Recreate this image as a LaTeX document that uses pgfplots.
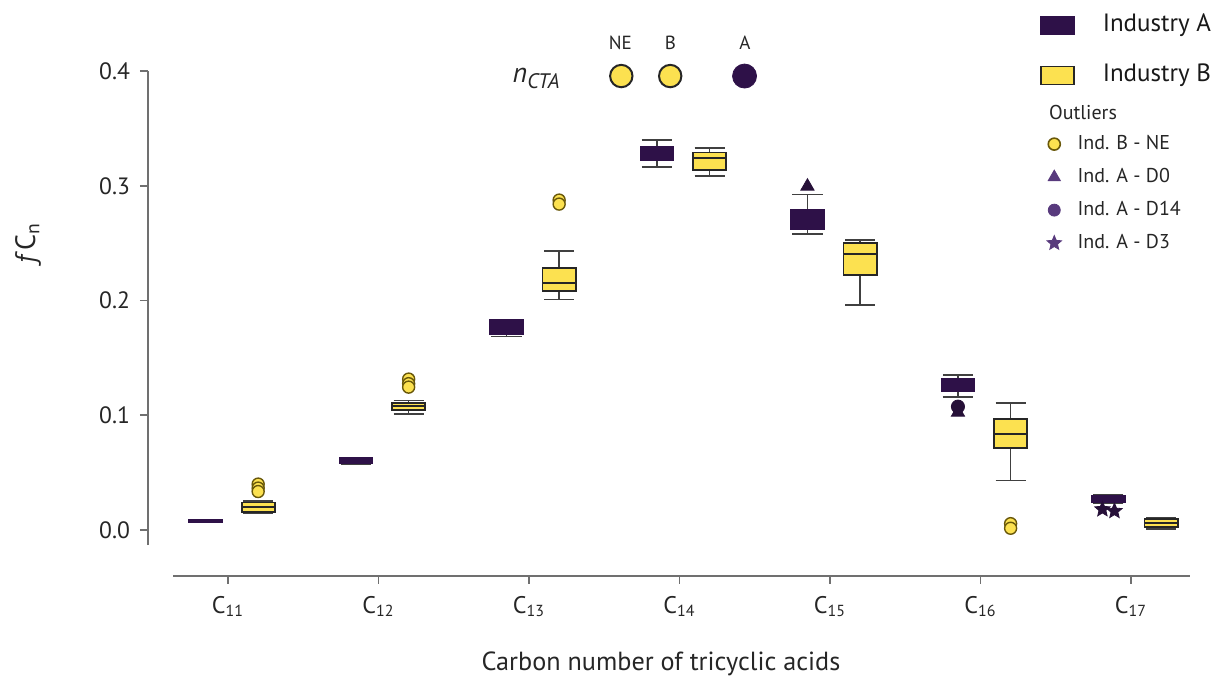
\documentclass[border=0pt]{standalone}
\usepackage{fontspec}
\setmainfont{PT Sans}
\usepackage{pgfplots}
\pgfplotsset{compat=1.18}
\usepgfplotslibrary{statistics}

\definecolor{indA}{RGB}{46,17,72}
\definecolor{indB}{RGB}{252,225,80}
\definecolor{outA}{RGB}{38,16,56}
\definecolor{legA}{RGB}{88,58,125}
\definecolor{olivedk}{RGB}{105,88,10}
\definecolor{axisgray}{RGB}{112,112,112}

% filled five-pointed star
\pgfdeclareplotmark{fstar}{%
  \pgfpathmoveto{\pgfpointpolar{90}{\pgfplotmarksize}}%
  \pgfpathlineto{\pgfpointpolar{126}{0.45\pgfplotmarksize}}%
  \pgfpathlineto{\pgfpointpolar{162}{\pgfplotmarksize}}%
  \pgfpathlineto{\pgfpointpolar{198}{0.45\pgfplotmarksize}}%
  \pgfpathlineto{\pgfpointpolar{234}{\pgfplotmarksize}}%
  \pgfpathlineto{\pgfpointpolar{270}{0.45\pgfplotmarksize}}%
  \pgfpathlineto{\pgfpointpolar{306}{\pgfplotmarksize}}%
  \pgfpathlineto{\pgfpointpolar{342}{0.45\pgfplotmarksize}}%
  \pgfpathlineto{\pgfpointpolar{18}{\pgfplotmarksize}}%
  \pgfpathlineto{\pgfpointpolar{54}{0.45\pgfplotmarksize}}%
  \pgfpathclose\pgfusepathqfillstroke}

\pgfplotsset{
  boxA/.style={forget plot, fill=indA, draw=indA, line width=0.8pt,
    boxplot/every whisker/.style={draw=black!75, line width=0.8pt},
    boxplot/every median/.style={draw=indA, line width=0.8pt}},
  boxB/.style={forget plot, fill=indB, draw=black!85, line width=0.9pt,
    boxplot/every whisker/.style={draw=black!75, line width=0.8pt},
    boxplot/every median/.style={draw=black!85, line width=0.9pt}},
}

\begin{document}
\begin{tikzpicture}
\begin{axis}[
  scale only axis, width=521pt, height=252.5pt,
  at={(0,0)}, anchor=south west,
  xmin=10.468, xmax=17.392, ymin=-0.0401, ymax=0.4,
  axis x line*=bottom, axis y line*=left,
  axis line style={draw=none},
  clip=false,
  xtick={11,...,17},
  xticklabels={C\textsubscript{11},C\textsubscript{12},C\textsubscript{13},C\textsubscript{14},C\textsubscript{15},C\textsubscript{16},C\textsubscript{17}},
  ytick={0,0.1,0.2,0.3,0.4},
  tick align=outside,
  major tick length=4pt,
  tick style={axisgray, line width=0.8pt},
  xticklabel style={font=\fontsize{12}{14}\selectfont, text=black!85, yshift=-2.5pt},
  yticklabel style={font=\fontsize{11.8}{14}\selectfont, text=black!85, xshift=-1.5pt,
    /pgf/number format/.cd, fixed, fixed zerofill, precision=1, assume math mode=true},
  boxplot/draw direction=y,
  boxplot/box extend=0.22,
  boxplot/whisker extend=0.2,
  legend style={at={(0.856,1.114)}, anchor=north west, draw=none, fill=none,
    inner sep=0pt, outer sep=0pt, row sep=13pt,
    font=\fontsize{12.5}{14}\selectfont,
    nodes={inner sep=0pt, text height=9pt, text depth=3pt, text=black!90},
    /tikz/every odd column/.append style={column sep=14pt}},
  legend cell align=left,
  legend image code/.code={\draw[#1] (0pt,-4.5pt) rectangle (16.5pt,4.5pt);},
]

% Industry A
\addplot[boxA, boxplot prepared={draw position=10.85, lower whisker=0.0070, lower quartile=0.0072, median=0.0078, upper quartile=0.0085, upper whisker=0.0088}] coordinates {};
\addplot[boxA, boxplot prepared={draw position=11.85, lower whisker=0.0575, lower quartile=0.0580, median=0.0600, upper quartile=0.0625, upper whisker=0.0630}] coordinates {};
\addplot[boxA, boxplot prepared={draw position=12.85, lower whisker=0.1685, lower quartile=0.1710, median=0.1770, upper quartile=0.1830, upper whisker=0.1835}] coordinates {};
\addplot[boxA, boxplot prepared={draw position=13.85, lower whisker=0.3165, lower quartile=0.3220, median=0.3280, upper quartile=0.3340, upper whisker=0.3400}] coordinates {};
\addplot[boxA, boxplot prepared={draw position=14.85, lower whisker=0.2580, lower quartile=0.2620, median=0.2720, upper quartile=0.2790, upper whisker=0.2925}] coordinates {};
\addplot[boxA, boxplot prepared={draw position=15.85, lower whisker=0.1160, lower quartile=0.1210, median=0.1260, upper quartile=0.1315, upper whisker=0.1350}] coordinates {};
\addplot[boxA, boxplot prepared={draw position=16.85, lower whisker=0.0235, lower quartile=0.0240, median=0.0270, upper quartile=0.0300, upper whisker=0.0305}] coordinates {};

% Industry B
\addplot[boxB, boxplot prepared={draw position=11.2, lower whisker=0.0145, lower quartile=0.0160, median=0.0200, upper quartile=0.0240, upper whisker=0.0250}] coordinates {};
\addplot[boxB, boxplot prepared={draw position=12.2, lower whisker=0.1010, lower quartile=0.1045, median=0.1080, upper quartile=0.1110, upper whisker=0.1130}] coordinates {};
\addplot[boxB, boxplot prepared={draw position=13.2, lower whisker=0.2010, lower quartile=0.2080, median=0.2150, upper quartile=0.2280, upper whisker=0.2430}] coordinates {};
\addplot[boxB, boxplot prepared={draw position=14.2, lower whisker=0.3085, lower quartile=0.3140, median=0.3240, upper quartile=0.3290, upper whisker=0.3330}] coordinates {};
\addplot[boxB, boxplot prepared={draw position=15.2, lower whisker=0.1960, lower quartile=0.2220, median=0.2405, upper quartile=0.2500, upper whisker=0.2527}] coordinates {};
\addplot[boxB, boxplot prepared={draw position=16.2, lower whisker=0.0430, lower quartile=0.0715, median=0.0835, upper quartile=0.0965, upper whisker=0.1105}] coordinates {};
\addplot[boxB, boxplot prepared={draw position=17.2, lower whisker=0.0010, lower quartile=0.0025, median=0.0060, upper quartile=0.0095, upper whisker=0.0110}] coordinates {};

% outliers
\addplot[forget plot, only marks, mark=*, mark size=3pt, fill=indB, draw=olivedk, line width=0.7pt] coordinates {
  (11.2,0.0400) (11.2,0.0365) (11.2,0.0335)
  (12.2,0.1315) (12.2,0.1275) (12.2,0.1245)
  (13.2,0.2875) (13.2,0.2840)
  (16.2,0.0055) (16.2,0.0015)};
\addplot[forget plot, only marks, mark=triangle*, mark size=3.8pt, fill=outA, draw=outA] coordinates {(14.85,0.2995) (15.85,0.1025)};
\addplot[forget plot, only marks, mark=*, mark size=3.3pt, fill=outA, draw=outA] coordinates {(15.85,0.1075)};
\addplot[forget plot, only marks, mark=fstar, mark size=4pt, fill=outA, draw=outA] coordinates {(16.81,0.0180) (16.89,0.0165)};

% n_CTA markers
\addplot[forget plot, only marks, mark=*, mark size=5.6pt, fill=indB, draw=black!85, line width=1pt] coordinates {(13.613,0.3956) (13.938,0.3956)};
\addplot[forget plot, only marks, mark=*, mark size=6pt, fill=indA, draw=indA] coordinates {(14.432,0.3956)};
\node[font=\fontsize{9.5}{11}\selectfont, text=black!85] at (axis cs:13.607,0.4247) {NE};
\node[font=\fontsize{9.5}{11}\selectfont, text=black!85] at (axis cs:13.940,0.4247) {B};
\node[font=\fontsize{9.5}{11}\selectfont, text=black!85] at (axis cs:14.435,0.4247) {A};
\node[anchor=base, text=black!85] at (axis cs:13.047,0.3904)
  {{\fontsize{14}{16}\selectfont\itshape n}\raisebox{-3pt}{\fontsize{10.5}{12}\selectfont\itshape CTA}};

% axis labels
\node[rotate=90, text=black!85, font=\fontsize{14}{16}\selectfont] at (axis cs:9.671,0.2501) {{\itshape f}\,C\textsubscript{n}};
\node[text=black!85, font=\fontsize{13.1}{15}\selectfont] at (axis cs:13.877,-0.1168) {Carbon number of tricyclic acids};
\node[anchor=west, text=black!85, font=\fontsize{10}{12}\selectfont] at (axis cs:16.409,0.3634) {Outliers};

% offset axis lines
\draw[axisgray, line width=1pt] (axis cs:10.468,-0.0131) -- (axis cs:10.468,0.4);
\draw[axisgray, line width=1pt] (axis cs:10.635,-0.0401) -- (axis cs:17.392,-0.0401);

\addlegendimage{fill=indA, draw=indA, line width=0.8pt}
\addlegendentry{Industry A}
\addlegendimage{fill=indB, draw=black!85, line width=0.9pt}
\addlegendentry{Industry B}
\end{axis}

\begin{axis}[
  scale only axis, width=521pt, height=252.5pt,
  at={(0,0)}, anchor=south west,
  hide axis, xmin=0, xmax=1, ymin=0, ymax=1,
  legend style={at={(0.8628,0.873)}, anchor=north west, draw=none, fill=none,
    inner sep=0pt, outer sep=0pt, row sep=7.5pt,
    font=\fontsize{10}{12}\selectfont,
    nodes={inner sep=0pt, text height=7pt, text depth=2pt, text=black!85},
    /tikz/every odd column/.append style={column sep=8pt}},
  legend cell align=left,
]
\addlegendimage{only marks, mark=*, mark size=3pt, fill=indB, draw=olivedk, line width=0.8pt}
\addlegendentry{Ind. B - NE}
\addlegendimage{only marks, mark=triangle*, mark size=3.5pt, fill=legA, draw=legA}
\addlegendentry{Ind. A - D0}
\addlegendimage{only marks, mark=*, mark size=3pt, fill=legA, draw=legA}
\addlegendentry{Ind. A - D14}
\addlegendimage{only marks, mark=fstar, mark size=3.8pt, fill=legA, draw=legA}
\addlegendentry{Ind. A - D3}
\end{axis}

\pgfresetboundingbox
\path[use as bounding box] (-74pt,-54pt) rectangle (536.5pt,288pt);
\end{tikzpicture}
\end{document}
